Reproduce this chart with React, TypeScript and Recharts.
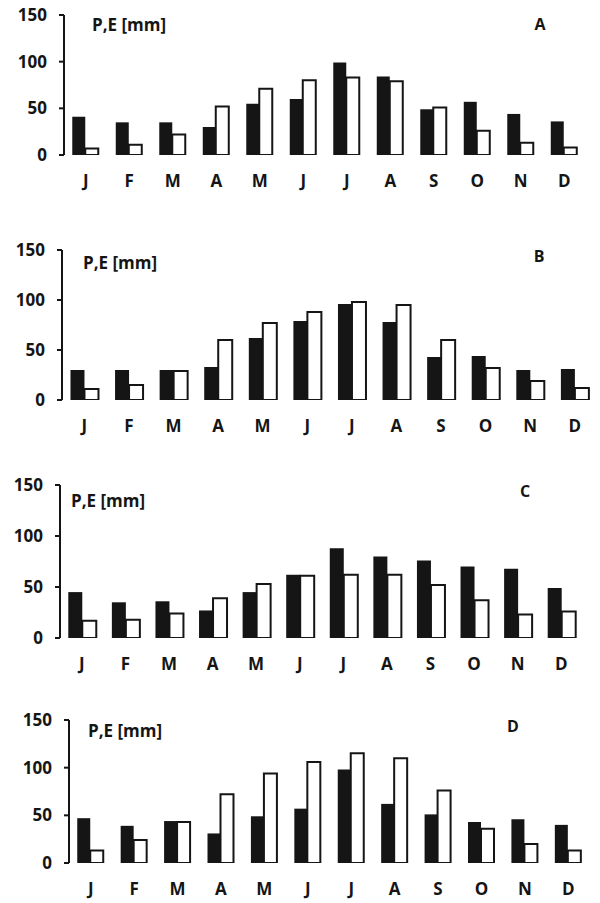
import React from 'react';
import { BarChart, Bar, XAxis, YAxis } from 'recharts';

const months = ['J', 'F', 'M', 'A', 'M', 'J', 'J', 'A', 'S', 'O', 'N', 'D'];
const yTicks = [0, 50, 100, 150];
const boundaryTicks = [0, 1, 2, 3, 4, 5, 6, 7, 8, 9, 10, 11, 12];

const precipA = [41, 35, 35, 30, 55, 60, 99, 84, 49, 57, 44, 36];
const evapA = [7, 11, 22, 52, 71, 80, 83, 79, 51, 26, 13, 8];
const precipB = [30, 30, 30, 33, 62, 79, 96, 78, 43, 44, 30, 31];
const evapB = [11, 15, 29, 60, 77, 88, 98, 95, 60, 32, 19, 12];
const precipC = [45, 35, 36, 27, 45, 62, 88, 80, 76, 70, 68, 49];
const evapC = [17, 18, 24, 39, 53, 61, 62, 62, 52, 37, 23, 26];
const precipD = [47, 39, 44, 31, 49, 57, 98, 62, 51, 43, 46, 40];
const evapD = [13, 24, 43, 72, 94, 106, 115, 110, 76, 36, 20, 13];

const unitLabel = 'P,E [mm]';

const panels = [
  { id: 'A', precip: precipA, evap: evapA, plotTop: 15, plotBottom: 155, left: 64, right: 586, unitX: 92, unitY: 24, letterX: 540, letterY: 24 },
  { id: 'B', precip: precipB, evap: evapB, plotTop: 250, plotBottom: 400, left: 62, right: 597, unitX: 83, unitY: 262, letterX: 539, letterY: 256 },
  { id: 'C', precip: precipC, evap: evapC, plotTop: 485, plotBottom: 638, left: 60, right: 583, unitX: 71, unitY: 500, letterX: 525, letterY: 491 },
  { id: 'D', precip: precipD, evap: evapD, plotTop: 720, plotBottom: 863, left: 69, right: 590, unitX: 88, unitY: 730, letterX: 513, letterY: 726 },
];

const FONT = "'Open Sans', 'DejaVu Sans', sans-serif";
const INK = '#151515';
const TOP_PAD = 15;
const X_AXIS_H = 40;
const BOTTOM_PAD = 5;
const Y_AXIS_W = 55;

function Panel({ p }: { p: typeof panels[number] }) {
  const data = months.map((m, i) => ({ idx: i, P: p.precip[i], E: p.evap[i] }));
  const height = p.plotBottom - p.plotTop + TOP_PAD + X_AXIS_H + BOTTOM_PAD;
  const top = p.plotTop - TOP_PAD;
  return (
    <div style={{ position: 'absolute', left: 0, top, width: 600, height }}>
      <BarChart
        width={600}
        height={height}
        data={data}
        margin={{ top: TOP_PAD, right: 600 - p.right, bottom: BOTTOM_PAD, left: p.left - Y_AXIS_W }}
        barCategoryGap="19%"
        barGap={0}
      >
        <XAxis
          xAxisId="edge"
          type="number"
          domain={[0, 12]}
          ticks={boundaryTicks}
          tick={false}
          height={0}
          tickSize={5}
          axisLine={{ stroke: INK, strokeWidth: 2 }}
          tickLine={{ stroke: INK, strokeWidth: 2 }}
          allowDataOverflow
        />
        <XAxis
          xAxisId="cat"
          dataKey="idx"
          type="category"
          height={X_AXIS_H}
          axisLine={false}
          tickLine={false}
          tickMargin={14}
          interval={0}
          tickFormatter={(v: number) => months[v]}
          tick={{ fill: INK, fontSize: 17, fontWeight: 700, fontFamily: FONT }}
        />
        <YAxis
          domain={[0, 150]}
          ticks={yTicks}
          width={Y_AXIS_W}
          tickSize={5}
          tickMargin={12}
          axisLine={{ stroke: INK, strokeWidth: 2 }}
          tickLine={{ stroke: INK, strokeWidth: 2 }}
          tick={{ fill: INK, fontSize: 17, fontWeight: 700, fontFamily: FONT }}
          allowDataOverflow
        />
        <Bar xAxisId="cat" dataKey="P" fill={INK} isAnimationActive={false} />
        <Bar xAxisId="cat" dataKey="E" fill="#ffffff" stroke={INK} strokeWidth={2} isAnimationActive={false} />
      </BarChart>
    </div>
  );
}

export default function App() {
  return (
    <div style={{ position: 'absolute', left: 0, top: 0, width: 600, height: 903, background: '#fff', fontFamily: FONT }}>
      {panels.map((p) => (
        <Panel key={p.id} p={p} />
      ))}
      {panels.map((p) => (
        <div
          key={'u' + p.id}
          style={{ position: 'absolute', left: p.unitX, top: p.unitY, transform: 'translateY(-50%)', fontSize: 17, fontWeight: 700, color: INK, lineHeight: 1, whiteSpace: 'nowrap' }}
        >
          {unitLabel}
        </div>
      ))}
      {panels.map((p) => (
        <div
          key={'l' + p.id}
          style={{ position: 'absolute', left: p.letterX, top: p.letterY, transform: 'translate(-50%, -50%)', fontSize: 16, fontWeight: 700, color: INK, lineHeight: 1 }}
        >
          {p.id}
        </div>
      ))}
    </div>
  );
}
